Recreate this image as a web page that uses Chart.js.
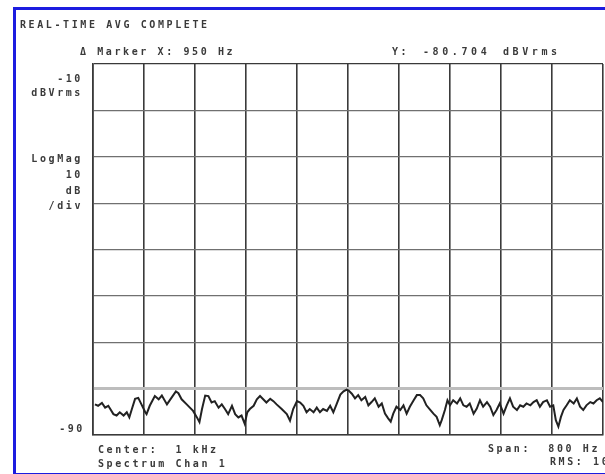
<!DOCTYPE html>
<html>
<head>
<meta charset="utf-8">
<script src="https://cdn.jsdelivr.net/npm/chart.js@4"></script>
<style>
  html, body { margin: 0; padding: 0; background: #fff; overflow: hidden; }
  #wrap { position: relative; width: 605px; height: 474px; overflow: hidden; }
  #frame { position: absolute; left: 13px; top: 7px; width: 620px; height: 463px; border: 3px solid #1c1ce0; box-sizing: content-box; }
  canvas { position: absolute; left: 0; top: 0; }
  .t { position: absolute; font-family: "DejaVu Sans Mono", monospace; font-size: 10px; font-weight: bold; color: #3a3a3a; letter-spacing: 2.6px; white-space: pre; line-height: 12px; }
  .r { text-align: right; }
  .w { letter-spacing: 3.6px; }
</style>
</head>
<body>
<div id="wrap">
  <div id="frame"></div>
  <canvas id="chart" width="605" height="474"></canvas>
  <div class="t" style="left:20px; top:19px;">REAL-TIME AVG COMPLETE</div>
  <div class="t" style="left:80px; top:46px;">&#916; Marker X: 950 Hz</div>
  <div class="t" style="left:392px; top:46px;">Y:</div>
  <div class="t w" style="left:423px; top:46px;">-80.704</div>
  <div class="t w" style="left:503px; top:46px;">dBVrms</div>
  <div class="t r" style="right:522px; top:73px;">-10</div>
  <div class="t r" style="right:522px; top:87px;">dBVrms</div>
  <div class="t r" style="right:522px; top:153px;">LogMag</div>
  <div class="t r" style="right:522px; top:169px;">10</div>
  <div class="t r" style="right:522px; top:185px;">dB</div>
  <div class="t r" style="right:522px; top:200px;">/div</div>
  <div class="t r" style="right:520px; top:423px;">-90</div>
  <div class="t" style="left:98px; top:444px;">Center:  1 kHz</div>
  <div class="t" style="left:98px; top:458px;">Spectrum Chan 1</div>
  <div class="t" style="left:488px; top:443px;">Span:  800 Hz</div>
  <div class="t" style="left:550px; top:456px;">RMS: 10</div>
</div>
<script>
// trace: frequency (Hz) and level (dBVrms)
const freqHz = [603, 608, 614, 619, 624, 632, 637, 642, 648, 653, 657, 661, 666, 671, 676, 682, 684, 689, 697, 703,
  708, 716, 723, 730, 734, 739, 747, 752, 757, 763, 767, 771, 776, 781, 786, 791, 797, 802, 807, 812,
  818, 823, 828, 833, 838, 842, 846, 852, 857, 862, 867, 872, 878, 883, 888, 896, 904, 909, 914, 920,
  925, 930, 935, 940, 946, 951, 956, 961, 967, 972, 977, 982, 988, 993, 998, 1001, 1006, 1011, 1016, 1021,
  1027, 1032, 1037, 1042, 1048, 1053, 1058, 1063, 1067, 1071, 1076, 1082, 1087, 1092, 1097, 1103, 1108, 1113, 1118, 1123,
  1129, 1134, 1139, 1144, 1147, 1152, 1156, 1160, 1165, 1171, 1176, 1181, 1186, 1191, 1197, 1202, 1207, 1212, 1218, 1223,
  1228, 1233, 1238, 1244, 1249, 1254, 1259, 1265, 1270, 1275, 1280, 1286, 1291, 1296, 1301, 1306, 1312, 1317, 1322, 1326,
  1330, 1334, 1338, 1343, 1348, 1354, 1359, 1364, 1369, 1374, 1380, 1385, 1390, 1395, 1400];
const levelDb = [-83.4, -83.7, -83.1, -84.1, -83.7, -85.5, -85.8, -85.1, -85.8, -85.1, -86.2, -84.4, -82.2, -82.0, -83.4, -85.1, -85.5, -83.7, -81.6, -82.3,
  -81.5, -83.4, -82.0, -80.6, -81.0, -82.3, -83.4, -84.1, -84.8, -86.2, -87.2, -84.4, -81.5, -81.6, -83.0, -82.7, -84.1, -83.4, -84.4, -85.5,
  -83.7, -85.5, -86.2, -85.8, -87.6, -85.1, -84.4, -83.7, -82.3, -81.6, -82.3, -83.0, -82.2, -82.7, -83.4, -84.4, -85.5, -86.9, -84.4, -82.7,
  -83.0, -83.7, -85.1, -84.4, -85.1, -84.1, -85.1, -84.4, -84.8, -83.7, -85.1, -83.4, -81.3, -80.6, -80.2, -80.4, -81.1, -82.1, -81.4, -82.5,
  -81.8, -83.6, -82.9, -82.1, -83.9, -83.2, -85.4, -86.4, -87.1, -85.4, -83.9, -84.6, -83.6, -85.4, -83.9, -82.5, -81.4, -81.4, -82.1, -83.6,
  -84.6, -85.4, -86.1, -87.9, -86.8, -84.6, -82.5, -83.6, -82.5, -83.2, -82.1, -83.6, -83.9, -83.2, -85.4, -84.3, -82.5, -83.9, -82.9, -83.9,
  -85.7, -84.6, -83.2, -85.4, -83.6, -82.1, -83.9, -84.6, -83.6, -83.9, -83.2, -83.6, -82.9, -82.5, -83.9, -82.9, -82.5, -83.9, -83.6, -86.8,
  -88.2, -86.1, -84.6, -83.6, -82.5, -83.2, -82.1, -83.9, -84.6, -83.6, -82.9, -83.2, -82.5, -82.1, -82.9];

// axis setup: center 1 kHz, span 800 Hz, 10 dB/div
const freqStart = 600, freqStop = 1400, freqStep = 80;
const dbTop = -10, dbBottom = -90, dbStep = 10;
const refLineDb = -80;

new Chart(document.getElementById("chart"), {
    type: 'line',
    data: {
        datasets: [{
            data: freqHz.map((f, i) => ({ x: f, y: levelDb[i] })),
            borderColor: '#222',
            borderWidth: 2,
            pointRadius: 0,
            tension: 0,
            fill: false
        }]
    },
    options: {
        responsive: false,
        animation: false,
        layout: { padding: { left: 93, top: 64, right: 2, bottom: 39 } },
        plugins: { legend: { display: false }, tooltip: { enabled: false } },
        scales: {
            x: {
                type: 'linear',
                min: freqStart,
                max: freqStop,
                ticks: { display: false, stepSize: freqStep },
                grid: { color: '#3a3a3a', lineWidth: 1.6, drawTicks: false },
                border: { color: '#3a3a3a', width: 1.6 }
            },
            y: {
                min: dbBottom,
                max: dbTop,
                ticks: { display: false, stepSize: dbStep },
                grid: {
                    drawTicks: false,
                    color: ctx => ctx.tick && ctx.tick.value === refLineDb ? '#bdbdbd' : (ctx.tick && (ctx.tick.value === dbTop) ? '#3a3a3a' : '#707070'),
                    lineWidth: ctx => ctx.tick && ctx.tick.value === refLineDb ? 3 : 1.2
                },
                border: { color: '#3a3a3a', width: 1.6 }
            }
        }
    }
});
</script>
</body>
</html>
